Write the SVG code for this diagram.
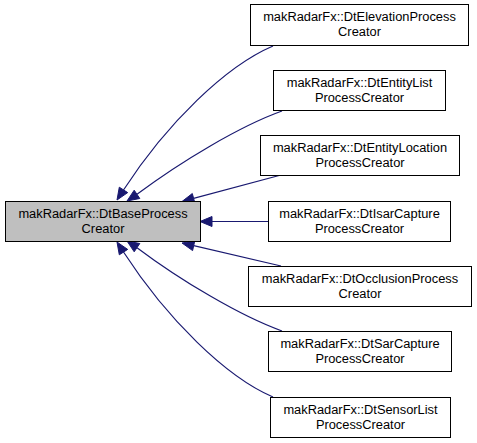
<svg xmlns="http://www.w3.org/2000/svg" width="477" height="443" viewBox="0 0 477 443">
<style>
.box{fill:#ffffff;stroke:#000000;stroke-width:1}
.base{fill:#bfbfbf;stroke:#000000;stroke-width:1}
text{font-family:"Liberation Sans",Arial,sans-serif;font-size:12.85px;fill:#000000;text-anchor:middle}
.edge{fill:none;stroke:#191970;stroke-width:1.2}
.head{fill:#191970;stroke:#191970;stroke-width:1}
</style>
<rect width="477" height="443" fill="#ffffff"/>
<g id="connectors">
<path class="edge" d="M273,46 C226,66 167,123 123.5,190"/>
<polygon class="head" points="127.7,192.6 117,200 119.3,187.2"/>
<path class="edge" d="M282,111 C240,126 180,162 137,194.3"/>
<polygon class="head" points="139.8,198.5 127,201 134.2,190.2"/>
<path class="edge" d="M281,175 L193.6,198.3"/>
<polygon class="head" points="194.9,203.1 182,201.5 192.3,193.5"/>
<path class="edge" d="M268,221.5 L212,221.5"/>
<polygon class="head" points="212,216.5 200,221.5 212,226.5"/>
<path class="edge" d="M281,266 L193.7,245.7"/>
<polygon class="head" points="194.8,240.8 182,243 192.6,250.6"/>
<path class="edge" d="M282,331 C240,316 180,280 137,247.7"/>
<polygon class="head" points="139.8,243.5 127,241 134.2,251.8"/>
<path class="edge" d="M273,397 C226,377 167,319 123.5,252"/>
<polygon class="head" points="127.7,249.4 117,242 119.3,254.8"/>
</g>
<g id="node_base">
<rect class="base" x="5.5" y="201.5" width="195" height="40"/>
<text x="103" y="217.5">makRadarFx::DtBaseProcess</text>
<text x="103" y="232.5">Creator</text>
</g>
<g id="node_elevation">
<rect class="box" x="250.5" y="4.5" width="218" height="41"/>
<text x="359.5" y="20.5">makRadarFx::DtElevationProcess</text>
<text x="359.5" y="35.5">Creator</text>
</g>
<g id="node_entitylist">
<rect class="box" x="273.5" y="70.5" width="172" height="40"/>
<text x="359.5" y="86.5">makRadarFx::DtEntityList</text>
<text x="359.5" y="101.5">ProcessCreator</text>
</g>
<g id="node_entitylocation">
<rect class="box" x="260.5" y="135.5" width="199" height="40"/>
<text x="360" y="151.5">makRadarFx::DtEntityLocation</text>
<text x="360" y="166.5">ProcessCreator</text>
</g>
<g id="node_isarcapture">
<rect class="box" x="268.5" y="201.5" width="182" height="40"/>
<text x="359.5" y="217.5">makRadarFx::DtIsarCapture</text>
<text x="359.5" y="232.5">ProcessCreator</text>
</g>
<g id="node_occlusion">
<rect class="box" x="248.5" y="266.5" width="223" height="40"/>
<text x="360" y="282.5">makRadarFx::DtOcclusionProcess</text>
<text x="360" y="297.5">Creator</text>
</g>
<g id="node_sarcapture">
<rect class="box" x="268.5" y="331.5" width="183" height="40"/>
<text x="360" y="347.5">makRadarFx::DtSarCapture</text>
<text x="360" y="362.5">ProcessCreator</text>
</g>
<g id="node_sensorlist">
<rect class="box" x="270.5" y="397.5" width="180" height="40"/>
<text x="360.5" y="413.5">makRadarFx::DtSensorList</text>
<text x="360.5" y="428.5">ProcessCreator</text>
</g>
</svg>
